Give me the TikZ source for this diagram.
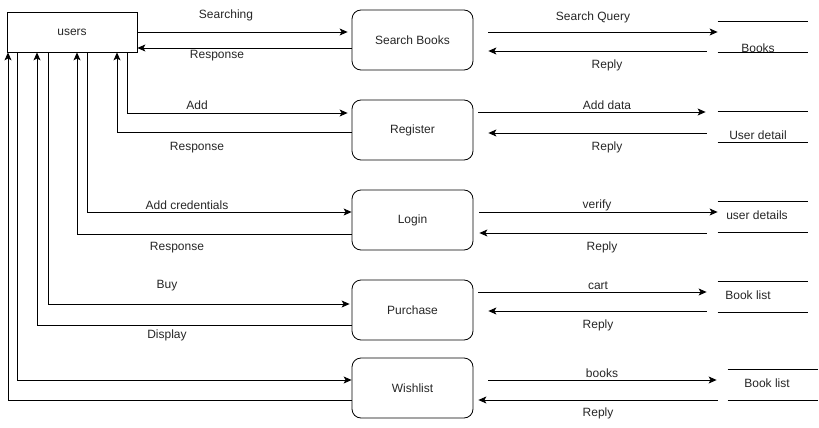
\documentclass[tikz,border=0pt]{standalone}
\usepackage{fontspec}
\setmainfont{Liberation Sans}
\usetikzlibrary{arrows.meta}
\begin{document}
\begin{tikzpicture}
[
 x=1pt, y=-1pt,
 every node/.style ={font=\fontsize{12}{14}\selectfont, text=black!85},
 inner sep=0mm,
 line width=0.8pt,
 USER/.style={rectangle, draw=black, minimum width=130pt, minimum height=40pt},
 PROC/.style={rectangle, draw=black, rounded corners=9pt, minimum width=121pt, minimum height=60pt},
 STORE/.style={rectangle, minimum width=90pt, minimum height=30pt},
 LBL/.style={yshift=-1.5pt},
 FLOW/.style={-{Stealth[length=8pt, width=7pt, inset=2pt]}},
 ],
%
\useasboundingbox (0,0) rectangle (819,428);
%
\node [USER]  (U)    at ( 72, 32)   {users};
%
\node [PROC]  (SB)   at ( 412.5, 40)   {Search Books};
\node [PROC]  (RG)   at ( 412.5, 130)  {Register};
\node [PROC]  (LG)   at ( 412.5, 220)  {Login};
\node [PROC]  (PU)   at ( 412.5, 310)  {Purchase};
\node [PROC]  (WL)   at ( 412.5, 388)  {Wishlist};
%
\node [STORE] (BK)   at ( 763, 37)  {};
\node [STORE] (UD)   at ( 763, 127) {};
\node [STORE] (UDS)  at ( 763, 217) {};
\node [STORE] (BL)   at ( 763, 297) {};
\node [STORE] (WB)   at ( 773, 385) {};
%
\foreach \s in {BK,UD,UDS,BL,WB}
      {
        \draw (\s.north west) -- (\s.north east);
        \draw (\s.south west) -- (\s.south east);
       }
%
\node [LBL] (BKT)   at ( 758, 47)   {Books};
\node [LBL] (UDT)   at ( 758, 134)  {User detail};
\node [LBL] (UDST)  at ( 757, 214)  {user details};
\node [LBL] (BLT)   at ( 748, 294)  {Book list};
\node [LBL] (WBT)   at ( 767, 382)  {Book list};
%
% users <-> processes
\draw [FLOW, shorten >=4pt]  (U.east) -- (SB.west |- 0,32) ;
\draw [FLOW]  (SB.west |- 0,48) -- (U.east |- 0,48) ;
\draw [FLOW, shorten >=4pt]  (U.south -| 127,0) |- (RG.west |- 0,113) ;
\draw [FLOW]  (RG.west |- 0,132) -| (U.south -| 117,0) ;
\draw [FLOW]  (U.south -| 87,0) |- (LG.west |- 0,212) ;
\draw [FLOW]  (LG.west |- 0,234) -| (U.south -| 77,0) ;
\draw [FLOW, shorten >=2pt]  (U.south -| 48,0) |- (PU.west |- 0,304) ;
\draw [FLOW]  (PU.west |- 0,325) -| (U.south -| 37,0) ;
\draw [FLOW]  (U.south -| 17,0) |- (WL.west |- 0,380) ;
\draw [FLOW]  (WL.west |- 0,400) -| (U.south -| 8,0) ;
%
% processes <-> stores
\draw [FLOW, shorten <=15pt]  (SB.east |- 0,32) -- (BK.west |- 0,32) ;
\draw [FLOW, shorten <=11pt, shorten >=15pt]  (BK.west |- 0,51) -- (SB.east |- 0,51) ;
\draw [FLOW, shorten <=5pt, shorten >=12pt]  (RG.east |- 0,112) -- (UD.west |- 0,112) ;
\draw [FLOW, shorten <=11pt, shorten >=15pt]  (UD.west |- 0,133) -- (RG.east |- 0,133) ;
\draw [FLOW, shorten <=6pt]  (LG.east |- 0,212) -- (UDS.west |- 0,212) ;
\draw [FLOW, shorten <=11pt, shorten >=6pt]  (UDS.west |- 0,233) -- (LG.east |- 0,233) ;
\draw [FLOW, shorten <=5pt, shorten >=11pt]  (PU.east |- 0,292) -- (BL.west |- 0,292) ;
\draw [FLOW, shorten <=11pt, shorten >=15pt]  (BL.west |- 0,311) -- (PU.east |- 0,311) ;
\draw [FLOW, shorten <=15pt, shorten >=11pt]  (WL.east |- 0,380) -- (WB.west |- 0,380) ;
\draw [FLOW, shorten <=10pt, shorten >=5pt]  (WB.west |- 0,400) -- (WL.east |- 0,400) ;
%
% flow labels
\node [LBL] (L1)   at ( 226, 14)   {Searching};
\node [LBL] (L2)   at ( 217, 54)   {Response};
\node [LBL] (L3)   at ( 197, 104)  {Add};
\node [LBL] (L4)   at ( 197, 146)  {Response};
\node [LBL] (L5)   at ( 187, 204)  {Add credentials};
\node [LBL] (L6)   at ( 177, 246)  {Response};
\node [LBL] (L7)   at ( 167, 284)  {Buy};
\node [LBL] (L8)   at ( 167, 334)  {Display};
%
\node [LBL] (R1)   at ( 593, 16)   {Search Query};
\node [LBL] (R2)   at ( 607, 64)   {Reply};
\node [LBL] (R3)   at ( 607, 104)  {Add data};
\node [LBL] (R4)   at ( 607, 146)  {Reply};
\node [LBL] (R5)   at ( 597, 204)  {verify};
\node [LBL] (R6)   at ( 602, 246)  {Reply};
\node [LBL] (R7)   at ( 598, 284)  {cart};
\node [LBL] (R8)   at ( 598, 324)  {Reply};
\node [LBL] (R9)   at ( 602, 372)  {books};
\node [LBL] (R10)  at ( 598, 412)  {Reply};
\end{tikzpicture}
\end{document}
